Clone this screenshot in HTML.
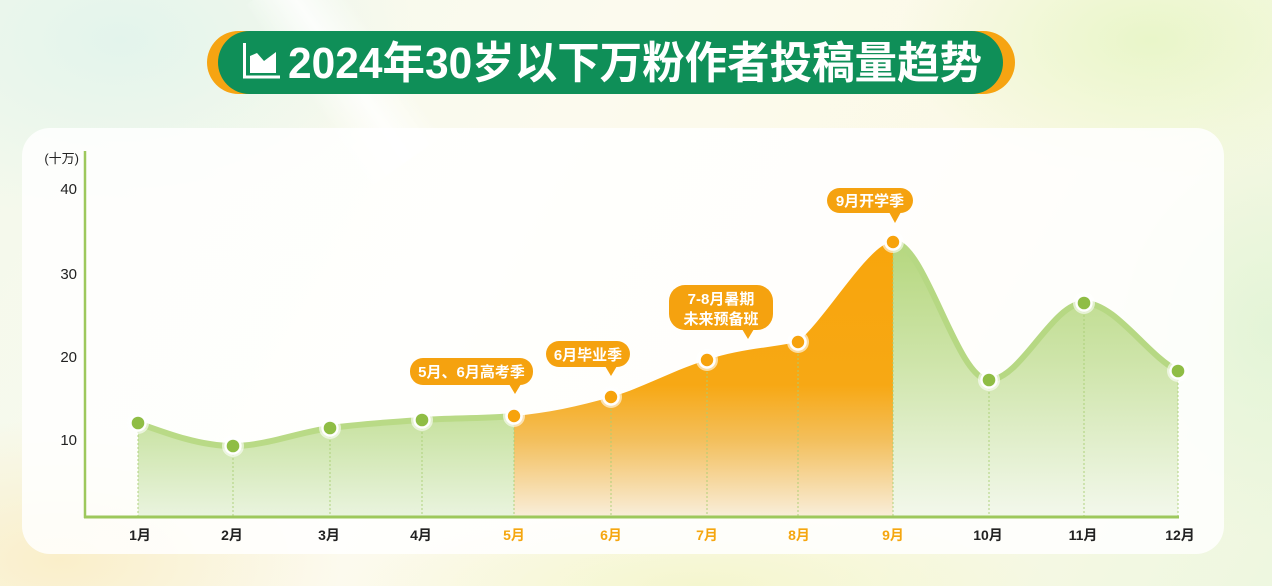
<!DOCTYPE html>
<html>
<head>
<meta charset="utf-8">
<style>
  html,body{margin:0;padding:0;}
  body{width:1272px;height:586px;overflow:hidden;position:relative;
    font-family:"Liberation Sans","Noto Sans CJK SC",sans-serif;
    background:#fbfaef;}
  .bg{position:absolute;left:0;top:0;width:1272px;height:586px;
    background:
      radial-gradient(ellipse 420px 260px at 120px 40px, rgba(226,244,236,0.95), rgba(226,244,236,0) 70%),
      radial-gradient(ellipse 360px 200px at 1150px 40px, rgba(232,246,200,0.95), rgba(232,246,200,0) 70%),
      radial-gradient(ellipse 260px 300px at 1272px 330px, rgba(226,244,214,0.9), rgba(226,244,214,0) 70%),
      radial-gradient(ellipse 400px 200px at 60px 560px, rgba(250,238,200,0.95), rgba(250,238,200,0) 70%),
      radial-gradient(ellipse 500px 120px at 700px 586px, rgba(244,246,205,0.95), rgba(244,246,205,0) 70%),
      linear-gradient(120deg, #f3f9ec 0%, #fcfaee 40%, #fbf9e6 70%, #eef7e0 100%);}
  .streak{position:absolute;left:300px;top:-40px;width:90px;height:220px;
    background:linear-gradient(90deg, rgba(255,255,255,0), rgba(255,255,255,0.8), rgba(255,255,255,0));
    transform:rotate(-35deg);}
  .card{position:absolute;left:22px;top:128px;width:1202px;height:426px;border-radius:28px;
    background:rgba(255,255,255,0.84);}
  svg{position:absolute;left:0;top:0;}
</style>
</head>
<body>
<div class="bg"></div>
<div class="streak"></div>
<div class="card"></div>
<svg width="1272" height="586" viewBox="0 0 1272 586" xmlns="http://www.w3.org/2000/svg">
  <defs>
    <linearGradient id="gL" x1="0" y1="410" x2="0" y2="517" gradientUnits="userSpaceOnUse">
      <stop offset="0" stop-color="#c4e09a"/>
      <stop offset="1" stop-color="#eaf4df"/>
    </linearGradient>
    <linearGradient id="gR" x1="0" y1="242" x2="0" y2="517" gradientUnits="userSpaceOnUse">
      <stop offset="0" stop-color="#b5d77e"/>
      <stop offset="0.45" stop-color="#cfe5ab"/>
      <stop offset="1" stop-color="#f3f8ec"/>
    </linearGradient>
    <linearGradient id="gO" x1="0" y1="242" x2="0" y2="517" gradientUnits="userSpaceOnUse">
      <stop offset="0" stop-color="#f8a50c"/>
      <stop offset="0.52" stop-color="#f7a814"/>
      <stop offset="0.72" stop-color="#f3bf5c"/>
      <stop offset="1" stop-color="#f9eedb"/>
    </linearGradient>
    <clipPath id="cL"><rect x="80" y="100" width="434" height="420"/></clipPath>
    <clipPath id="cO"><rect x="514" y="100" width="379" height="420"/></clipPath>
    <clipPath id="cR"><rect x="893" y="100" width="300" height="420"/></clipPath>
  </defs>

  <!-- Title pill -->
  <rect x="207" y="31" width="808" height="63" rx="31.5" fill="#f6a412"/>
  <rect x="218" y="31" width="785" height="63" rx="31.5" fill="#0f8f58"/>
  <path d="M244.5,43 V77 H280" fill="none" stroke="#fff" stroke-width="3"/>
  <polygon points="250,73 250,56 257,53 264,61 276,52 276,73" fill="#fff"/>
  <text x="288" y="78" fill="#fff" font-size="44" font-weight="bold" textLength="694" lengthAdjust="spacingAndGlyphs"
    font-family="'Liberation Sans','Noto Sans CJK SC',sans-serif">2024年30岁以下万粉作者投稿量趋势</text>

  <!-- areas -->
  <path clip-path="url(#cL)" fill="url(#gL)" d="M138,517 L138,423 C169.67,434.5 201.33,446 233,446 C265.33,446 297.67,432.4 330,428 C360.67,423.9 391.33,422 422,420 C452.67,418 483.33,418.7 514,416 C546.33,413.2 578.67,406.4 611,397 L611,517 Z"/>
  <path clip-path="url(#cO)" fill="url(#gO)" d="M514,517 L514,416 C546.33,413.2 578.67,406.4 611,397 C643,387.7 675,369.3 707,360 C737.33,349.4 767.67,348 798,342 C829.67,313.5 870,242 893,242 L893,517 Z"/>
  <path clip-path="url(#cR)" fill="url(#gR)" d="M893,517 L893,242 C925,242 957,380 989,380 C1020.67,380 1052.33,303 1084,303 C1115.33,303 1146.67,355 1178,371 L1178,517 Z"/>

  <!-- strokes -->
  <path clip-path="url(#cL)" fill="none" stroke="#b9da86" stroke-width="6" d="M138,423 C169.67,434.5 201.33,446 233,446 C265.33,446 297.67,432.4 330,428 C360.67,423.9 391.33,422 422,420 C452.67,418 483.33,418.7 514,416"/>
  <path clip-path="url(#cR)" fill="none" stroke="#b6d883" stroke-width="6" d="M893,242 C925,242 957,380 989,380 C1020.67,380 1052.33,303 1084,303 C1115.33,303 1146.67,355 1178,371"/>

  <!-- dotted verticals -->
  <g stroke="#a9cf74" stroke-width="1" stroke-dasharray="2,2" opacity="0.9">
    <line x1="138" y1="423" x2="138" y2="517"/>
    <line x1="233" y1="446" x2="233" y2="517"/>
    <line x1="330" y1="428" x2="330" y2="517"/>
    <line x1="422" y1="420" x2="422" y2="517"/>
    <line x1="514" y1="416" x2="514" y2="517"/>
    <line x1="611" y1="397" x2="611" y2="517"/>
    <line x1="707" y1="360" x2="707" y2="517"/>
    <line x1="798" y1="342" x2="798" y2="517"/>
    <line x1="893" y1="242" x2="893" y2="517"/>
    <line x1="989" y1="380" x2="989" y2="517"/>
    <line x1="1084" y1="303" x2="1084" y2="517"/>
    <line x1="1178" y1="371" x2="1178" y2="517"/>
  </g>

  <!-- axes -->
  <line x1="85" y1="151" x2="85" y2="518" stroke="#9dc85c" stroke-width="2.5"/>
  <line x1="84" y1="517" x2="1179" y2="517" stroke="#9dc85c" stroke-width="3"/>

  <!-- y labels -->
  <g font-size="15" fill="#222" text-anchor="end" font-family="'Liberation Sans','Noto Sans CJK SC',sans-serif">
    <text x="79" y="163" font-size="13">(十万)</text>
    <text x="77" y="194">40</text>
    <text x="77" y="279">30</text>
    <text x="77" y="362">20</text>
    <text x="77" y="445">10</text>
  </g>

  <!-- x labels -->
  <g font-size="14" font-weight="bold" text-anchor="middle" font-family="'Liberation Sans','Noto Sans CJK SC',sans-serif">
    <text x="140" y="540" fill="#222">1月</text>
    <text x="232" y="540" fill="#222">2月</text>
    <text x="329" y="540" fill="#222">3月</text>
    <text x="421" y="540" fill="#222">4月</text>
    <text x="514" y="540" fill="#f5a60f">5月</text>
    <text x="611" y="540" fill="#f5a60f">6月</text>
    <text x="707" y="540" fill="#f5a60f">7月</text>
    <text x="799" y="540" fill="#f5a60f">8月</text>
    <text x="893" y="540" fill="#f5a60f">9月</text>
    <text x="988" y="540" fill="#222">10月</text>
    <text x="1083" y="540" fill="#222">11月</text>
    <text x="1180" y="540" fill="#222">12月</text>
  </g>

  <!-- points -->
  <g>
    <g fill="#ffffff" opacity="0.6">
      <circle cx="138" cy="423" r="11"/><circle cx="233" cy="446" r="11"/>
      <circle cx="330" cy="428" r="11"/><circle cx="422" cy="420" r="11"/>
      <circle cx="514" cy="416" r="11"/><circle cx="611" cy="397" r="11"/>
      <circle cx="707" cy="360" r="11"/><circle cx="798" cy="342" r="11"/>
      <circle cx="893" cy="242" r="11"/><circle cx="989" cy="380" r="11"/>
      <circle cx="1084" cy="303" r="11"/><circle cx="1178" cy="371" r="11"/>
    </g>
    <g fill="#8fbd45" stroke="#fff" stroke-width="2.4">
      <circle cx="138" cy="423" r="7.5"/><circle cx="233" cy="446" r="7.5"/>
      <circle cx="330" cy="428" r="7.5"/><circle cx="422" cy="420" r="7.5"/>
      <circle cx="989" cy="380" r="7.5"/><circle cx="1084" cy="303" r="7.5"/>
      <circle cx="1178" cy="371" r="7.5"/>
    </g>
    <g fill="#f7a30c" stroke="#fff" stroke-width="2.6">
      <circle cx="514" cy="416" r="7.5"/><circle cx="611" cy="397" r="7.5"/>
      <circle cx="707" cy="360" r="7.5"/><circle cx="798" cy="342" r="7.5"/>
      <circle cx="893" cy="242" r="7.5"/>
    </g>
  </g>

  <!-- callouts -->
  <g fill="#f5a20f">
    <rect x="410" y="358" width="123" height="27" rx="13"/>
    <polygon points="509,384 521,384 515,394"/>
    <rect x="546" y="341" width="84" height="26" rx="13"/>
    <polygon points="605,366 617,366 611,376"/>
    <rect x="669" y="285" width="104" height="45" rx="16"/>
    <polygon points="742,329 754,329 748,339"/>
    <rect x="827" y="188" width="86" height="25" rx="12.5"/>
    <polygon points="889,212 901,212 895,223"/>
  </g>
  <g fill="#fff" font-size="15" font-weight="bold" text-anchor="middle" font-family="'Liberation Sans','Noto Sans CJK SC',sans-serif">
    <text x="471.5" y="377">5月、6月高考季</text>
    <text x="588" y="360">6月毕业季</text>
    <text x="721" y="304">7-8月暑期</text>
    <text x="721" y="324">未来预备班</text>
    <text x="870" y="206">9月开学季</text>
  </g>
</svg>
</body>
</html>
